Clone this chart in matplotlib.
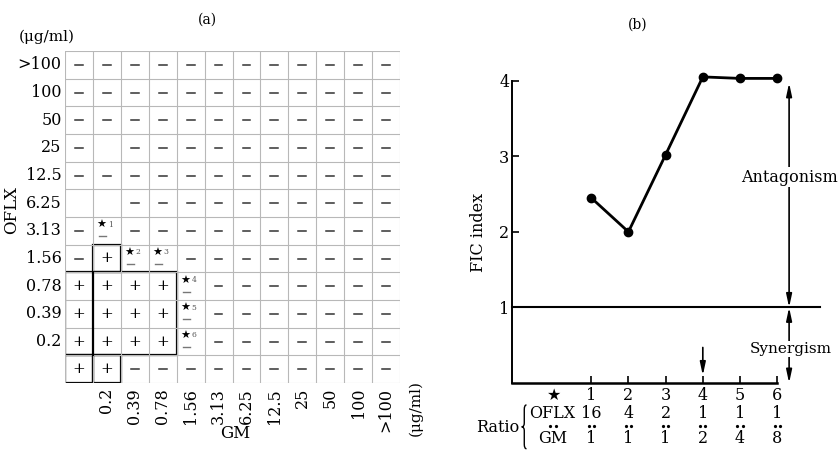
import matplotlib
matplotlib.use("Agg")
import matplotlib.pyplot as plt
from matplotlib.patches import Rectangle, PathPatch
from matplotlib.path import Path

plt.rcParams['font.family'] = ['DejaVu Serif', 'DejaVu Sans']
plt.rcParams['font.size'] = 11

# ---- panel (a): checkerboard ----
row_labels = ['>100', '100', '50', '25', '12.5', '6.25', '3.13', '1.56', '0.78', '0.39', '0.2', '']
col_labels = ['', '0.2', '0.39', '0.78', '1.56', '3.13', '6.25', '12.5', '25', '50', '100', '>100']
# '-' growth, '+' inhibition, ' ' empty, digit = starred cell number
cells = [
    '------------',
    '------------',
    '------------',
    '- ----------',
    '------------',
    '  ----------',
    '-1----------',
    '-+23--------',
    '++++4-------',
    '++++5-------',
    '++++6-------',
    '++----------',
]
# inhibited regions outlined in bold: (col, row-from-bottom, width, height)
outlines = [(1, 4, 1, 1), (0, 1, 4, 3), (0, 0, 1, 1), (1, 0, 1, 1)]

# ---- panel (b): FIC index ----
combo = [1, 2, 3, 4, 5, 6]
fic = [2.45, 2.0, 3.02, 4.05, 4.03, 4.03]
oflx_ratio = ['16', '4', '2', '1', '1', '1']
gm_ratio = ['1', '1', '1', '2', '4', '8']

W, H = 838, 454
fig = plt.figure(figsize=(W / 100, H / 100), dpi=100)

n = len(row_labels)
ax = fig.add_axes([65 / W, 1 - 383 / H, 335 / W, 332 / H])
ax.set_xlim(0, n)
ax.set_ylim(0, n)
ax.axis('off')

for k in range(n + 1):
    ax.plot([k, k], [0, n], color='#b8b8b8', lw=0.8)
    ax.plot([0, n], [k, k], color='#b8b8b8', lw=0.8)

for i, row in enumerate(cells):
    y = n - 1 - i
    for j, c in enumerate(row):
        if c == '-':
            ax.plot([j + 0.36, j + 0.64], [y + 0.5, y + 0.5], color='#333333', lw=1.1)
        elif c == '+':
            ax.text(j + 0.5, y + 0.5, '+', ha='center', va='center', fontsize=11)
        elif c.isdigit():
            ax.text(j + 0.3, y + 0.7, '★', ha='center', va='center', fontsize=8)
            ax.text(j + 0.62, y + 0.72, c, ha='center', va='center', fontsize=5.5, color='#555555')
            ax.plot([j + 0.22, j + 0.48], [y + 0.3, y + 0.3], color='#777777', lw=1.0)

for (x0, y0, w, h) in outlines:
    ax.add_patch(Rectangle((x0, y0), w, h, fill=False, lw=1.6, ec='black'))
ax.plot([1, 1], [1, 4], color='black', lw=1.6)

for i, lab in enumerate(row_labels):
    ax.text(-0.12, n - 1 - i + 0.5, lab, ha='right', va='center', fontsize=11.5, clip_on=False)
for j, lab in enumerate(col_labels):
    ax.text(j + 0.5, -0.18, lab, ha='center', va='top', rotation=90, fontsize=11.5, clip_on=False)

fig.text(207 / W, 1 - 20 / H, '(a)', ha='center', va='center', fontsize=10)
fig.text(47 / W, 1 - 37 / H, '(μg/ml)', ha='center', va='center', fontsize=11)
fig.text(12 / W, 1 - 210 / H, 'OFLX', ha='center', va='center', rotation=90, fontsize=12)
fig.text(235 / W, 1 - 434 / H, 'GM', ha='center', va='center', fontsize=12)
fig.text(416 / W, 1 - 408 / H, '(μg/ml)', ha='center', va='center', rotation=90, fontsize=11)

# ---- panel (b) ----
bx = fig.add_axes([512 / W, 1 - 383 / H, 321 / W, 325 / H])
bx.set_xlim(-1.13, 7.5)
bx.set_ylim(0, 4.3)
for s in ['top', 'right']:
    bx.spines[s].set_visible(False)
bx.spines['left'].set_bounds(0, 4)
bx.spines['bottom'].set_bounds(-1.13, 6)
bx.spines['left'].set_linewidth(1.4)
bx.spines['bottom'].set_linewidth(1.8)
bx.set_yticks([1, 2, 3, 4])
bx.set_xticks([0] + combo)
bx.set_xticklabels(['★'] + [str(c) for c in combo])
bx.tick_params(axis='both', direction='in', length=5, width=1.2, labelsize=11.5)
bx.tick_params(axis='x', pad=3)
bx.tick_params(axis='y', pad=2)
bx.xaxis.get_major_ticks()[0].tick1line.set_visible(False)

bx.plot(combo, fic, color='black', lw=2, marker='o', ms=6)
bx.plot([-1.13, 7.15], [1, 1], color='black', lw=1.5, clip_on=False)

ax_x = 6.32
arrow = dict(arrowstyle='<|-|>,head_length=0.7,head_width=0.15', color='black', lw=1.2,
             shrinkA=0, shrinkB=0)
bx.annotate('', xy=(ax_x, 3.97), xytext=(ax_x, 1.0), arrowprops=arrow)
bx.annotate('', xy=(ax_x, 1.0), xytext=(ax_x, 0.0), arrowprops=arrow, annotation_clip=False)
bx.text(ax_x, 2.72, 'Antagonism', ha='center', va='center', fontsize=11.5,
        bbox=dict(fc='white', ec='none', pad=1), clip_on=False)
bx.text(ax_x + 0.05, 0.45, 'Synergism', ha='center', va='center', fontsize=11,
        bbox=dict(fc='white', ec='none', pad=1), clip_on=False)
bx.annotate('', xy=(4, 0.1), xytext=(4, 0.47),
            arrowprops=dict(arrowstyle='-|>,head_length=0.7,head_width=0.15', color='black',
                            lw=1.2, shrinkA=0, shrinkB=0))

# ratio table under the axis
xs = [-0.03] + combo
bx.text(-0.05, -0.40, 'OFLX', ha='center', va='center', fontsize=11.5, clip_on=False)
bx.text(-0.03, -0.73, 'GM', ha='center', va='center', fontsize=11.5, clip_on=False)
for c, o, g in zip(combo, oflx_ratio, gm_ratio):
    bx.text(c, -0.40, o, ha='center', va='center', fontsize=11.5, clip_on=False)
    bx.text(c, -0.73, g, ha='center', va='center', fontsize=11.5, clip_on=False)
for x in xs:
    bx.plot([x - 0.07, x + 0.07], [-0.57, -0.57], ls='none', marker='o', ms=1.3,
            color='black', clip_on=False)
bx.text(-1.52, -0.59, 'Ratio', ha='center', va='center', fontsize=11.5, clip_on=False)

# curly brace drawn as a path
xr, xm, xl = -0.74, -0.80, -0.87
top, mid, bot = -0.29, -0.58, -0.87
verts = [(xr, top), (xm, top), (xm, top - 0.06),
         (xm, mid + 0.05), (xm, mid), (xl, mid),
         (xm, mid), (xm, mid - 0.05),
         (xm, bot + 0.06), (xm, bot), (xr, bot)]
codes = [Path.MOVETO, Path.CURVE3, Path.CURVE3,
         Path.LINETO, Path.CURVE3, Path.CURVE3,
         Path.CURVE3, Path.CURVE3,
         Path.LINETO, Path.CURVE3, Path.CURVE3]
bx.add_patch(PathPatch(Path(verts, codes), fill=False, lw=1.0, ec='black', clip_on=False))

fig.text(478 / W, 1 - 232 / H, 'FIC index', ha='center', va='center', rotation=90, fontsize=11.5)
fig.text(638 / W, 1 - 25 / H, '(b)', ha='center', va='center', fontsize=10)

fig.savefig('out.png', dpi=100)
